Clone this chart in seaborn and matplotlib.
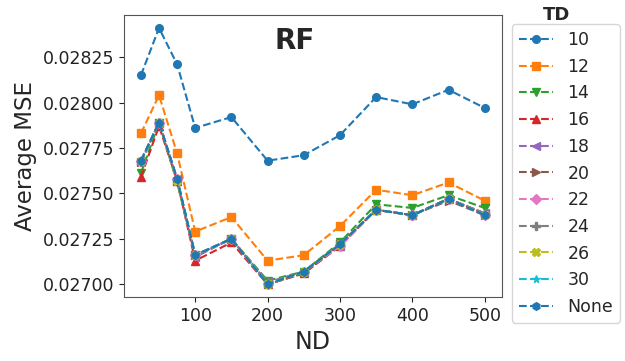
import numpy as np
import pandas as pd
import seaborn as sns
import matplotlib
matplotlib.use("Agg")
import matplotlib.pyplot as plt

# number of trees (x axis)
nd = [25, 50, 75, 100, 150, 200, 250, 300, 350, 400, 450, 500]

# average MSE per tree depth
td_10 = [0.02815, 0.02841, 0.02821, 0.02786, 0.02792, 0.02768, 0.02771, 0.02782, 0.02803, 0.02799, 0.02807, 0.02797]
td_12 = [0.02783, 0.02804, 0.02772, 0.02729, 0.02737, 0.02713, 0.02716, 0.02732, 0.02752, 0.02749, 0.02756, 0.02746]
td_14 = [0.02761, 0.02789, 0.02756, 0.02716, 0.02725, 0.02702, 0.02707, 0.02723, 0.02744, 0.02742, 0.02749, 0.02742]
td_16 = [0.02759, 0.02787, 0.02757, 0.02713, 0.02723, 0.02700, 0.02706, 0.02721, 0.02741, 0.02738, 0.02747, 0.02739]
td_18 = [0.02768, 0.02789, 0.02758, 0.02715, 0.02725, 0.02701, 0.02707, 0.02721, 0.02741, 0.02738, 0.02747, 0.02739]
td_20 = [0.02767, 0.02789, 0.02757, 0.02716, 0.02725, 0.02700, 0.02706, 0.02722, 0.02741, 0.02738, 0.02746, 0.02738]
td_22 = [0.02768, 0.02789, 0.02758, 0.02716, 0.02725, 0.02700, 0.02707, 0.02721, 0.02741, 0.02738, 0.02747, 0.02738]
td_24 = [0.02767, 0.02789, 0.02758, 0.02716, 0.02725, 0.02701, 0.02707, 0.02722, 0.02741, 0.02738, 0.02747, 0.02739]
td_26 = [0.02768, 0.02789, 0.02757, 0.02716, 0.02725, 0.02700, 0.02707, 0.02722, 0.02741, 0.02738, 0.02747, 0.02738]
td_30 = [0.02768, 0.02789, 0.02758, 0.02716, 0.02725, 0.02700, 0.02707, 0.02722, 0.02741, 0.02738, 0.02747, 0.02738]
td_none = [0.02768, 0.02789, 0.02758, 0.02716, 0.02725, 0.02700, 0.02707, 0.02722, 0.02741, 0.02738, 0.02747, 0.02738]

td_labels = ["10", "12", "14", "16", "18", "20", "22", "24", "26", "30", "None"]
series = [td_10, td_12, td_14, td_16, td_18, td_20, td_22, td_24, td_26, td_30, td_none]
markers = ["o", "s", "v", "^", "<", ">", "D", "P", "X", "*", "h"]

sns.set_style("ticks")
plt.rcParams["font.family"] = ["DejaVu Sans"]

colors = sns.color_palette("tab10", 10)
colors = colors + [colors[0]]

fig = plt.figure(figsize=(6.25, 3.61), dpi=100)
ax = fig.add_axes([0.198, 0.177, 0.605, 0.781])

for lab, vals, m, c in zip(td_labels, series, markers, colors):
    df = pd.DataFrame({"ND": nd, "MSE": vals})
    sns.lineplot(data=df, x="ND", y="MSE", ax=ax, color=c, marker=m,
                 linestyle="--", linewidth=1.5, markersize=5.5,
                 mec=c, mew=1.0, label=lab)

ax.set_xlabel("ND", fontsize=17)
ax.set_ylabel("Average MSE", fontsize=16.5)
ax.tick_params(labelsize=12.5, colors="#222222")
ax.set_xticks([100, 200, 300, 400, 500])
ax.yaxis.set_major_locator(matplotlib.ticker.MultipleLocator(0.00025))
ax.yaxis.set_major_formatter(matplotlib.ticker.FormatStrFormatter("%.5f"))
for s in ax.spines.values():
    s.set_color("#555555")

ax.text(0.452, 0.91, "RF", transform=ax.transAxes, ha="center", va="center",
        fontsize=20, fontweight="bold")

leg = ax.legend(loc="upper left", bbox_to_anchor=(1.026, 0.968), borderaxespad=0,
                fontsize=12.5, frameon=True)
fig.text(557 / 625, 1 - 15 / 361, "TD", ha="center", va="center",
         fontsize=13, fontweight="bold")

fig.savefig("out.png", dpi=100)
